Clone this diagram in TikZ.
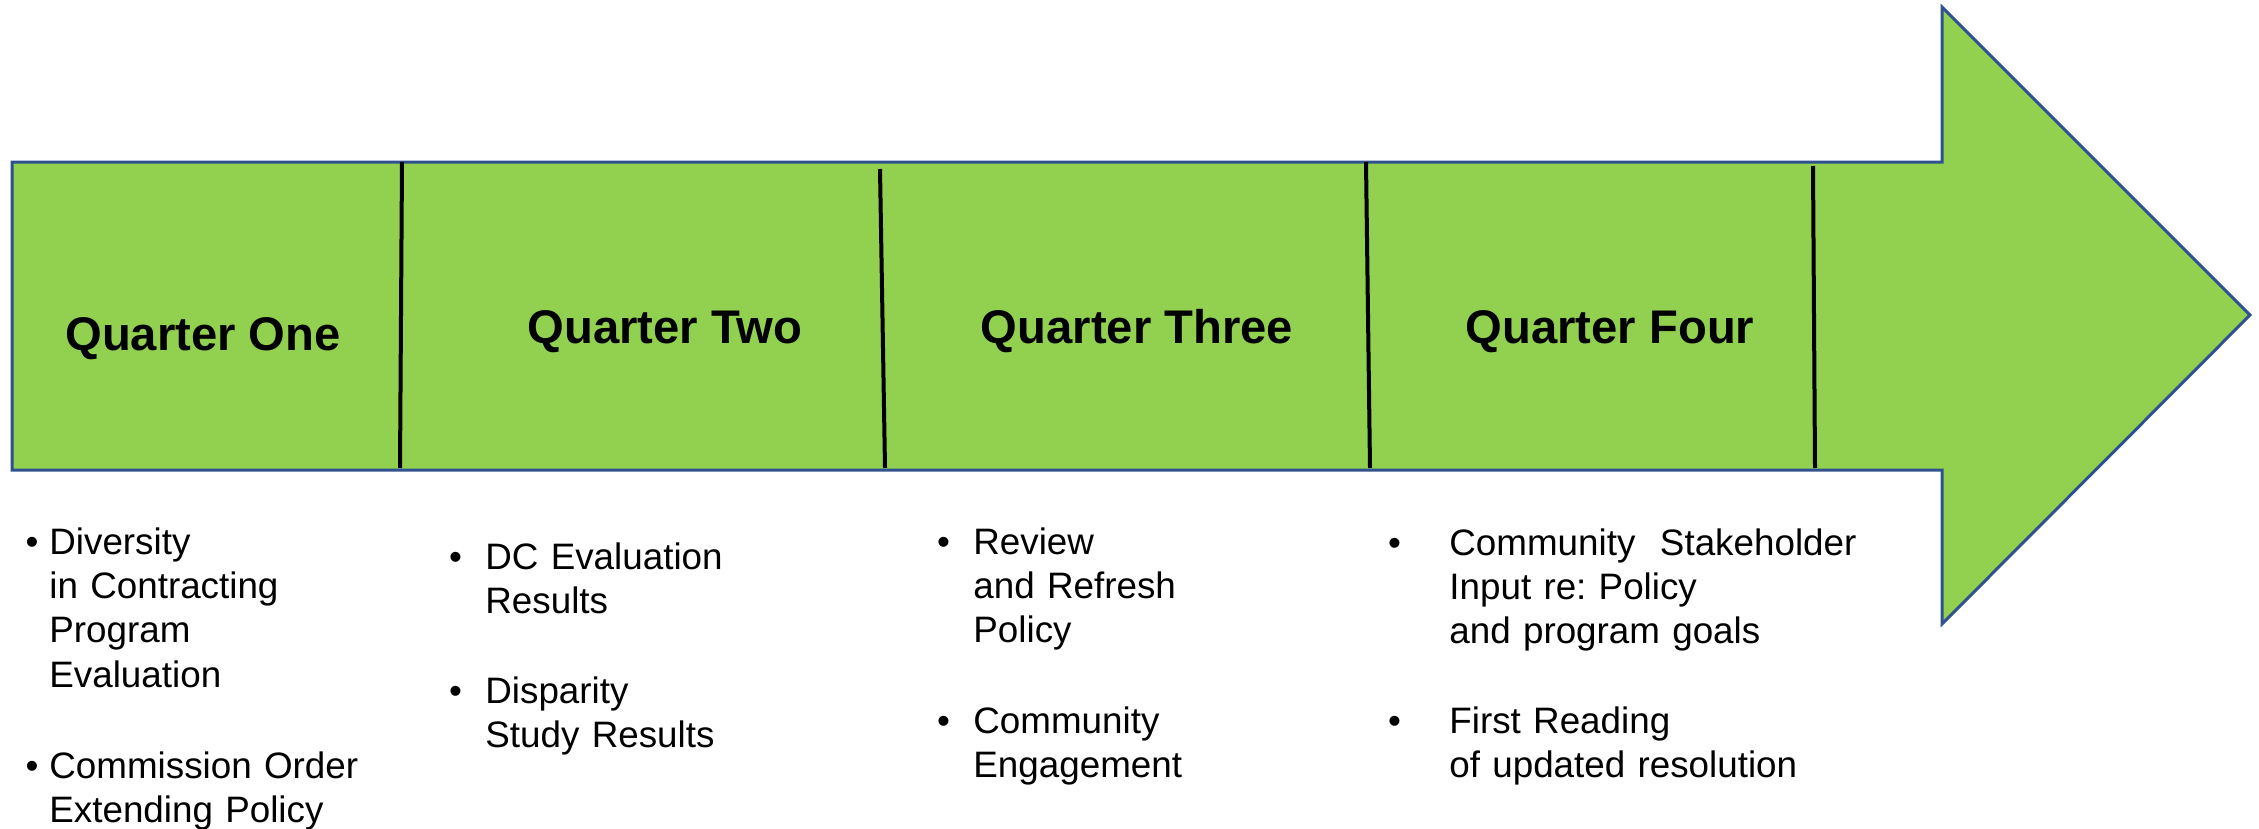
\documentclass[tikz,border=0pt]{standalone}
\usepackage{fontspec}
\setmainfont{Liberation Sans}
\definecolor{qgreen}{HTML}{92D050}
\definecolor{qblue}{HTML}{2F528F}
\newcommand\qbullet[1]{\noindent\llap{\textbullet\hspace{#1}}}
\frenchspacing
\begin{document}
\begin{tikzpicture}[x=0.5pt, y=-0.5pt, line join=miter,
	qlabel/.style={font=\fontsize{23.6}{28}\selectfont\bfseries, inner sep=0pt, anchor=base},
	item/.style={font=\fontsize{18.4}{22.2}\selectfont, inner sep=0pt, text width=240pt, align=left, anchor=base west}]
			\useasboundingbox (0,0) rectangle (2259,829);
			% the big arrow
			\draw[fill=qgreen, draw=qblue, line width=1.5pt] (12,162) -- (1942,162) -- (1942,7) -- (2250,315) -- (1942,624) -- (1942,470) -- (12,470) -- cycle;
			% dividers
			\foreach \xa/\ya/\xb in {402/162/400, 880/169/885, 1366/162/1370, 1813/166/1815}{\draw[line width=2pt] (\xa,\ya) -- (\xb,468);}
			\node[qlabel] (q1) at (203,350) {Quarter One};
			\node[qlabel] (q2) at (665,343) {Quarter Two};
			\node[qlabel] (q3) at (1137,343) {Quarter Three};
			\node[qlabel] (q4) at (1610,343) {Quarter Four};
			% quarter one
			\node[item] (d1) at (49,554) {\qbullet{5.5pt}Diversity\\in Contracting\\Program\\Evaluation};
			\node[item] (d2) at (49,778) {\qbullet{5.5pt}Commission Order\\Extending Policy};
			% quarter two
			\node[item] (e1) at (485,569) {\qbullet{11.75pt}DC Evaluation\\ Results};
			\node[item] (e2) at (485,703) {\qbullet{11.75pt}Disparity\\Study Results};
			% quarter three
			\node[item] (r1) at (973,554) {\qbullet{11.75pt}Review\\and Refresh\\Policy};
			\node[item] (r2) at (973,733) {\qbullet{11.75pt}Community\\Engagement};
			% quarter four
			\node[item] (s1) at (1449,555) {\qbullet{24.25pt}Community~~Stakeholder\\Input re: Policy\\and program goals};
			\node[item] (s2) at (1449,733) {\qbullet{24.25pt}First Reading\\of updated resolution};
\end{tikzpicture}
\end{document}
